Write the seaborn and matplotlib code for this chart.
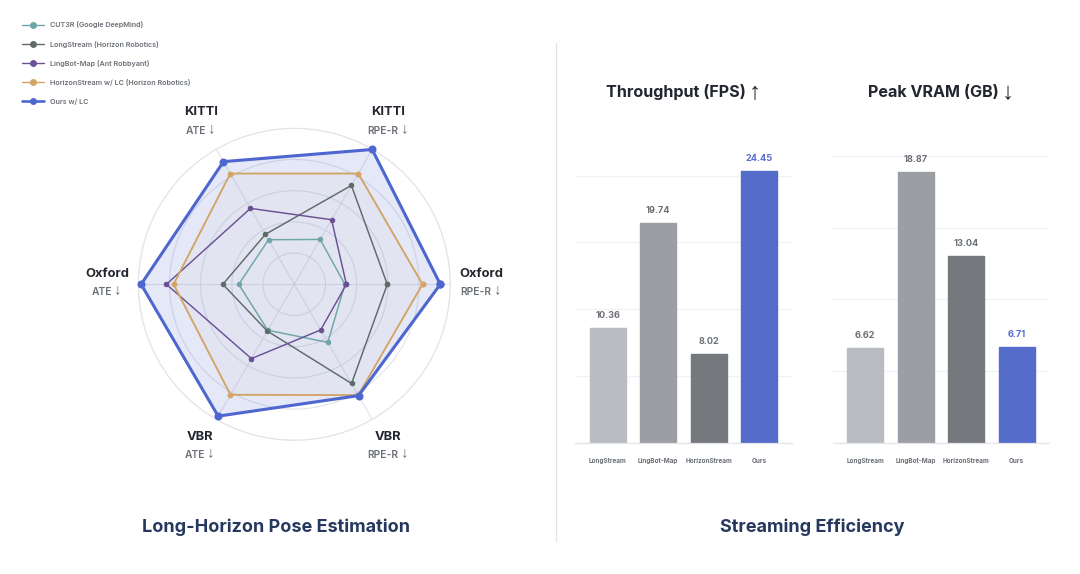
import numpy as np
import pandas as pd
import matplotlib
matplotlib.use("Agg")
import matplotlib.pyplot as plt
import seaborn as sns

W, H = 1080, 574
FONT = ['Inter', 'DejaVu Sans']
ARROW_FONT = ['Liberation Sans', 'DejaVu Sans']

axes_names = ['Oxford RPE-R', 'KITTI RPE-R', 'KITTI ATE', 'Oxford ATE', 'VBR ATE', 'VBR RPE-R']
cut3r = [1.62, 1.66, 1.65, 1.78, 1.70, 2.15]
longstream = [2.98, 3.66, 1.85, 2.29, 1.73, 3.67]
lingbot = [1.67, 2.39, 2.81, 4.10, 2.75, 1.69]
horizon = [4.11, 4.10, 4.10, 3.87, 4.09, 4.10]
ours = [4.68, 4.99, 4.54, 4.91, 4.88, 4.12]

series_names = ['CUT3R (Google DeepMind)', 'LongStream (Horizon Robotics)', 'LingBot-Map (Ant Robbyant)',
                'HorizonStream w/ LC (Horizon Robotics)', 'Ours w/ LC']
series_values = [cut3r, longstream, lingbot, horizon, ours]
series_colors = ['#6FA5A6', '#5E6B68', '#6A5196', '#D2A566', '#4E66CF']
series_widths = [1.05, 1.05, 1.05, 1.35, 2.2]
series_sizes = [4.0, 4.0, 4.0, 4.2, 5.8]
series_fill = [0, 0, 0, 0.035, 0.15]

bar_categories = ['LongStream', 'LingBot-Map', 'HorizonStream', 'Ours']
fps_values = [10.36, 19.74, 8.02, 24.45]
vram_values = [6.62, 18.87, 13.04, 6.71]
bar_colors = ['#B9BCC0', '#9B9EA2', '#75787D', '#566CCB']
label_colors = ['#6B7077', '#6B7077', '#6B7077', '#566CCB']


def px_rect(x0, x1, ytop, ybot):
    return [x0 / W, 1 - ybot / H, (x1 - x0) / W, (ybot - ytop) / H]


def ftext(fig, x, y, s, **kw):
    return fig.text(x / W, 1 - y / H, s, ha='center', va='center', family=FONT, **kw)


def arrow_text(fig, x, y, s, arrow, gap=3.0, drop=0.09, **kw):
    """Word in the main face, arrow in a thinner face, centred together on x."""
    em = kw['fontsize'] * 100 / 72
    base = y + 0.36 * em
    t = fig.text(x / W, 1 - base / H, s, ha='left', va='baseline', family=FONT, **kw)
    a = fig.text(x / W, 1 - (base + drop * em) / H, arrow, ha='left', va='baseline',
                 family=ARROW_FONT, fontsize=kw['fontsize'] * 1.5, color=kw['color'])
    rend = fig.canvas.get_renderer()
    tw = t.get_window_extent(rend).width
    aw = a.get_window_extent(rend).width
    left = x - (tw + gap + aw) / 2
    t.set_x(left / W)
    a.set_x((left + tw + gap) / W)


sns.set_theme(style='white')
plt.rcParams['font.family'] = FONT
fig = plt.figure(figsize=(W / 100, H / 100), dpi=100, facecolor='white')

# Radar
cx, cy, R = 294.3, 284.3, 156
rad = fig.add_axes(px_rect(cx - R, cx + R, cy - R, cy + R), projection='polar')
theta = np.deg2rad(np.arange(len(axes_names)) * 60.0)
theta_closed = np.append(theta, theta[0] + 2 * np.pi)
for name, vals, col, lw, ms, fa in zip(series_names, series_values, series_colors,
                                       series_widths, series_sizes, series_fill):
    r_closed = vals + vals[:1]
    sns.lineplot(x=theta_closed, y=r_closed, ax=rad, sort=False, estimator=None, color=col,
                 linewidth=lw, marker='o', markersize=ms, markeredgewidth=0, label=name,
                 clip_on=False, zorder=3 + lw)
    if fa:
        rad.fill(theta_closed, r_closed, color=col, alpha=fa, linewidth=0, zorder=2)
rad.set_ylim(0, 5)
rad.set_rgrids([1, 2, 3, 4, 5], labels=[''] * 5)
rad.set_thetagrids([0, 60, 120, 180, 240, 300], labels=[''] * 6)
rad.grid(True, color='#E2E4EA', linewidth=0.8)
rad.spines['polar'].set_color('#E2E4EA')
rad.spines['polar'].set_linewidth(0.8)
rad.set_xlabel('')
rad.set_ylabel('')
handles, labels = rad.get_legend_handles_labels()
rad.legend_.remove()
leg = fig.legend(handles, labels, loc='upper left', bbox_to_anchor=(22 / W, 1 - 21.5 / H), frameon=False,
                 prop={'family': FONT, 'size': 5.2, 'weight': 'semibold'}, labelcolor='#6B7077',
                 handlelength=3.05, handletextpad=0.83, labelspacing=1.68, borderpad=0, borderaxespad=0)
for h, lw in zip(leg.legend_handles, [1.0, 1.0, 1.0, 1.0, 1.9]):
    h.set_markersize(5.0)
    h.set_linewidth(lw)

radar_labels = [(201, 'KITTI', 'ATE', 112, 130), (388, 'KITTI', 'RPE-R', 112, 130),
                (107, 'Oxford', 'ATE', 274, 291), (481, 'Oxford', 'RPE-R', 274, 291),
                (200, 'VBR', 'ATE', 437, 454), (388, 'VBR', 'RPE-R', 437, 454)]
for x, a, b, y1, y2 in radar_labels:
    ftext(fig, x, y1, a, fontsize=9.3, fontweight='bold', color='#22262E')
    arrow_text(fig, x, y2, b, '↓', gap=2, drop=-0.17, fontsize=7.4, fontweight='semibold', color='#6B7077')


def bars(vals, rect, top, ticks):
    ax = fig.add_axes(rect)
    df = pd.DataFrame({'method': bar_categories, 'value': vals})
    sns.barplot(df, x='method', y='value', hue='method', order=bar_categories, hue_order=bar_categories,
                palette=bar_colors, legend=False, width=0.71, saturation=1, ax=ax)
    ax.set_xlim(-0.645, 3.645)
    ax.set_ylim(0, top)
    ax.set_yticks(ticks)
    ax.set_yticklabels([])
    ax.grid(axis='y', color='#F0F1F4', linewidth=0.9)
    ax.grid(axis='x', visible=False)
    ax.set_axisbelow(True)
    ax.set_xlabel('')
    ax.set_ylabel('')
    ax.tick_params(axis='both', length=0)
    ax.tick_params(axis='x', pad=10.5, labelsize=4.6, labelcolor='#6B7077')
    for lab in ax.get_xticklabels():
        lab.set_fontweight('bold')
    for s in ['top', 'left', 'right']:
        ax.spines[s].set_visible(False)
    ax.spines['bottom'].set_color('#E3E5EA')
    ax.spines['bottom'].set_linewidth(0.9)
    for cont, col in zip(ax.containers, label_colors):
        for p in cont:
            p.set_edgecolor(p.get_facecolor())
            p.set_linewidth(1.0)
            p.set_joinstyle('round')
        ax.bar_label(cont, fmt='%.2f', padding=5.5, color=col, fontsize=6.6, fontweight='bold')
    return ax


ytop_l = 443 - 25 * 11.14
ytop_r = 443 - 20.5 * 14.36
bars(fps_values, px_rect(575, 792, ytop_l, 443), 25, [0, 6, 12, 18, 24])
bars(vram_values, px_rect(832.7, 1049.3, ytop_r, 443), 20.5, [0, 5, 10, 15, 20])

arrow_text(fig, 683, 91.5, 'Throughput (FPS)', '↑', gap=3, fontsize=11.6, fontweight='bold', color='#22262E')
arrow_text(fig, 941, 91.5, 'Peak VRAM (GB)', '↓', gap=3, fontsize=11.6, fontweight='bold', color='#22262E')
ftext(fig, 276, 527, 'Long-Horizon Pose Estimation', fontsize=13, fontweight='bold', color='#27385F')
ftext(fig, 812, 527, 'Streaming Efficiency', fontsize=13, fontweight='bold', color='#27385F')

fig.add_artist(plt.Line2D([556.5 / W, 556.5 / W], [1 - 43 / H, 1 - 541 / H], color='#E3E4E8', linewidth=0.9))

fig.savefig('out.png', dpi=100, facecolor='white')
